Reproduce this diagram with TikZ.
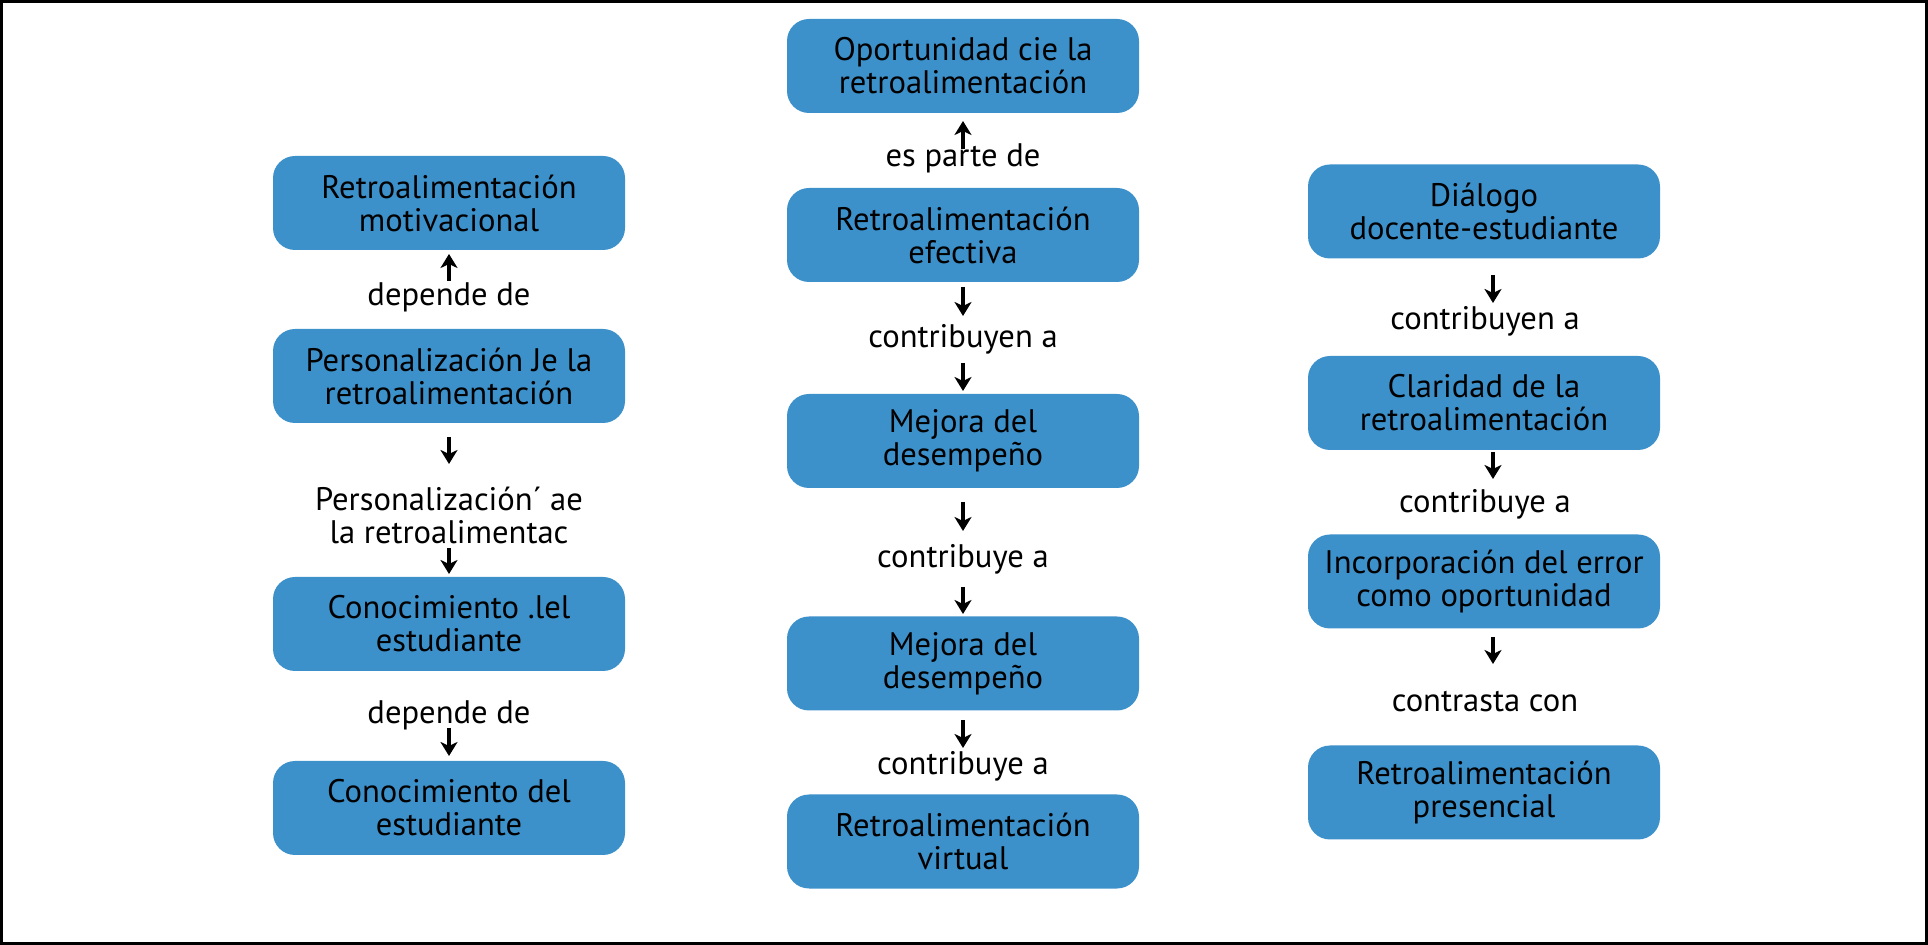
\documentclass[tikz,border=0pt]{standalone}
\usepackage{fontspec}
\setmainfont{PT Sans}
\usepackage{tikz}
\usetikzlibrary{arrows.meta}
\definecolor{azulcaja}{RGB}{61,145,203}
\tikzset{
	caja/.style={fill=azulcaja,rounded corners=11pt,minimum width=176pt,minimum height=47pt,inner sep=0pt,align=center,font=\fontsize{16.3}{16.5}\selectfont},
	rel/.style={anchor=base,inner sep=0pt,align=center,font=\fontsize{16.3}{16.5}\selectfont},
	flecha/.style={line width=1.7pt,-{Stealth[length=7pt,width=8.5pt,inset=2pt]}}
}

\begin{document}
\begin{tikzpicture}[x=0.5pt,y=-0.5pt]
	\useasboundingbox (0,0) rectangle (1928,945);
	\draw[line width=1.3pt] (1.3,1.3) rectangle (1926.7,943.7);
	
	%left column
	\node[caja] (motiv) at (449,203) {Retroalimentación\\motivacional};
	\node[caja] (perso) at (449,376) {Personalización Je la\\retroalimentación};
	\node[caja] (conoc1) at (449,624) {Conocimiento .lel\\estudiante};
	\node[caja] (conoc2) at (449,808) {Conocimiento del\\estudiante};
	\node[rel] (dep1) at (449,306) {depende de};
	\node[rel,anchor=center] (perso2) at (449,515) {Personalización´ ae\\la retroalimentac};
	\node[rel] (dep2) at (449,724) {depende de};
	
	%middle column
	\node[caja] (oport) at (963,66) {Oportunidad cie la\\retroalimentación};
	\node[caja] (efect) at (963,235) {Retroalimentación\\efectiva};
	\node[caja] (mejora1) at (963,441) {Mejora del\\desempeño};
	\node[caja] (mejora2) at (963,663.5) {Mejora del\\desempeño};
	\node[caja] (virtual) at (963,841.5) {Retroalimentación\\virtual};
	\node[rel] (parte) at (963,167) {es parte de};
	\node[rel] (contr1) at (963,348) {contribuyen a};
	\node[rel] (contr2) at (963,568) {contribuye a};
	\node[rel] (contr3) at (963,775) {contribuye a};
	
	%right column
	\node[caja] (dialogo) at (1484,211.5) {Diálogo\\docente-estudiante};
	\node[caja] (claridad) at (1484,403) {Claridad de la\\retroalimentación};
	\node[caja] (error) at (1484,581.5) {Incorporación del error\\como oportunidad};
	\node[caja] (presen) at (1484,792.5) {Retroalimentación\\presencial};
	\node[rel] (contr4) at (1485,330) {contribuyen a};
	\node[rel] (contr5) at (1485,513) {contribuye a};
	\node[rel] (contra) at (1485,712) {contrasta con};
	
	%arrows
	\foreach \n/\x/\ya/\yb in {1/449/281/254, 2/449/437/464, 3/449/548/574, 4/449/728/756,
		5/963/149/121, 6/963/287/316, 7/963/363/391, 8/963/502/531, 9/963/587/614, 10/963/720/748,
		11/1493/275/303, 12/1493/452/479, 13/1493/637/664}
	{\coordinate (f\n a) at (\x,\ya);
	 \coordinate (f\n b) at (\x,\yb);
	 \draw[flecha] (f\n a)--(f\n b);}
\end{tikzpicture}
\end{document}
